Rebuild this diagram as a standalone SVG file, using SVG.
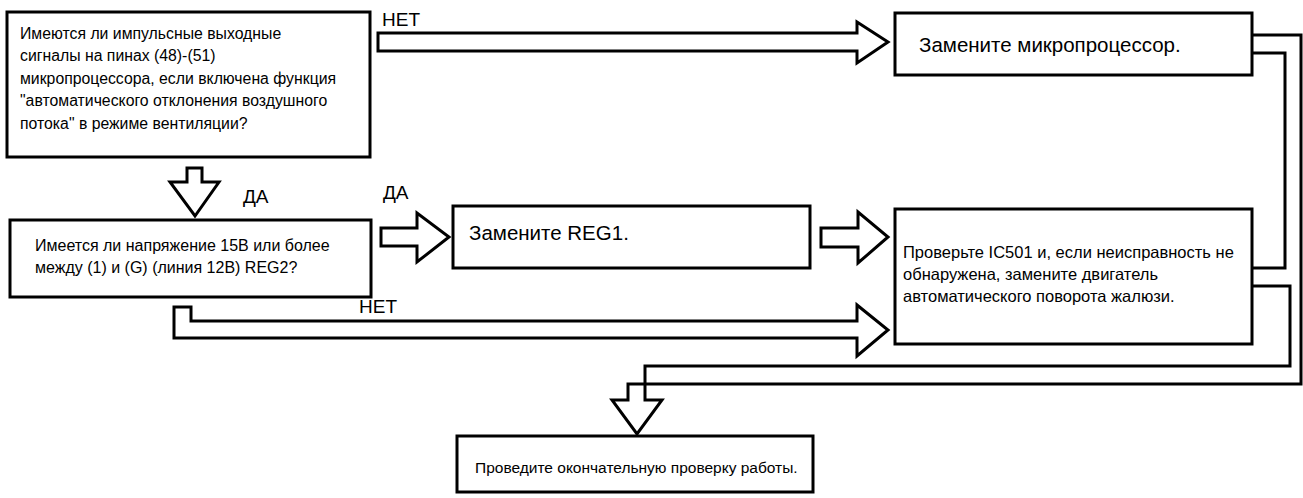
<svg xmlns="http://www.w3.org/2000/svg" width="1303" height="498" viewBox="0 0 1303 498">
  <style>
    .box { fill: #ffffff; stroke: #000000; stroke-width: 3; }
    .arrow { fill: #ffffff; stroke: #000000; stroke-width: 3; stroke-linejoin: miter; }
    .line { fill: none; stroke: #000000; stroke-width: 3; }
    text { font-family: "Liberation Sans", Arial, sans-serif; fill: #000000; }
    .q1 { font-size: 15.8px; }
    .q2 { font-size: 16px; }
    .ic { font-size: 16.5px; }
    .big { font-size: 20.5px; }
    .fin { font-size: 15.5px; }
    .lbl { font-size: 19px; }
  </style>
  <rect width="1303" height="498" fill="#ffffff"/>

  <!-- connectors -->
  <g id="connectors">
    <!-- НЕТ: question 1 to microprocessor replacement -->
    <path class="arrow" d="M378,33 H857 V22 L888,42 L857,63 V51 H378 Z"/>
    <text class="lbl" x="382" y="26">НЕТ</text>
    <!-- ДА: question 1 down to question 2 -->
    <path class="arrow" d="M187,168 H202 V182 H219 L195,216 L170,182 H187 Z"/>
    <text class="lbl" x="243" y="203">ДА</text>
    <!-- ДА: question 2 to REG1 replacement -->
    <path class="arrow" d="M381,228 H417 V213 L449,237 L417,262 V246 H381 Z"/>
    <text class="lbl" x="383" y="199">ДА</text>
    <!-- REG1 replacement to IC501 check -->
    <path class="arrow" d="M821,228 H858 V212 L888,237 L858,263 V247 H821 Z"/>
    <!-- НЕТ: question 2 to IC501 check -->
    <path class="arrow" d="M174,307 H191 V321 H857 V305 L888,330 L857,356 V338 H174 Z"/>
    <text class="lbl" x="359" y="313">НЕТ</text>
    <!-- merged return path to final check -->
    <path class="arrow" d="M1252,35 H1301 V384 H628 V400 H612 L637,434 L662,400 H645 V366 H1290 V286 H1252"/>
    <path class="line" d="M1252,53 H1285 V268 H1252"/>
  </g>

  <g id="q1">
    <rect class="box" x="7" y="12" width="363" height="145"/>
    <text class="q1">
      <tspan x="20" y="39">Имеются ли импульсные выходные</tspan>
      <tspan x="20" y="61">сигналы на пинах (48)-(51)</tspan>
      <tspan x="20" y="84">микропроцессора, если включена функция</tspan>
      <tspan x="20" y="106">"автоматического отклонения воздушного</tspan>
      <tspan x="20" y="129">потока" в режиме вентиляции?</tspan>
    </text>
  </g>

  <g id="replace-cpu">
    <rect class="box" x="895" y="13" width="357" height="62"/>
    <text class="big" x="919" y="52">Замените микропроцессор.</text>
  </g>

  <g id="q2">
    <rect class="box" x="10" y="220" width="361" height="77"/>
    <text class="q2">
      <tspan x="35" y="251">Имеется ли напряжение 15В или более</tspan>
      <tspan x="35" y="273">между (1) и (G) (линия 12В)  REG2?</tspan>
    </text>
  </g>

  <g id="replace-reg1">
    <rect class="box" x="453" y="206" width="357" height="62"/>
    <text class="big" x="469" y="240">Замените REG1.</text>
  </g>

  <g id="check-ic501">
    <rect class="box" x="895" y="209" width="357" height="135"/>
    <text class="ic">
      <tspan x="903" y="258">Проверьте IC501 и, если неисправность не</tspan>
      <tspan x="903" y="280">обнаружена, замените двигатель</tspan>
      <tspan x="903" y="302">автоматического поворота жалюзи.</tspan>
    </text>
  </g>

  <g id="final-check">
    <rect class="box" x="457" y="436" width="356" height="56"/>
    <text class="fin" x="475" y="473">Проведите окончательную проверку работы.</text>
  </g>
</svg>
